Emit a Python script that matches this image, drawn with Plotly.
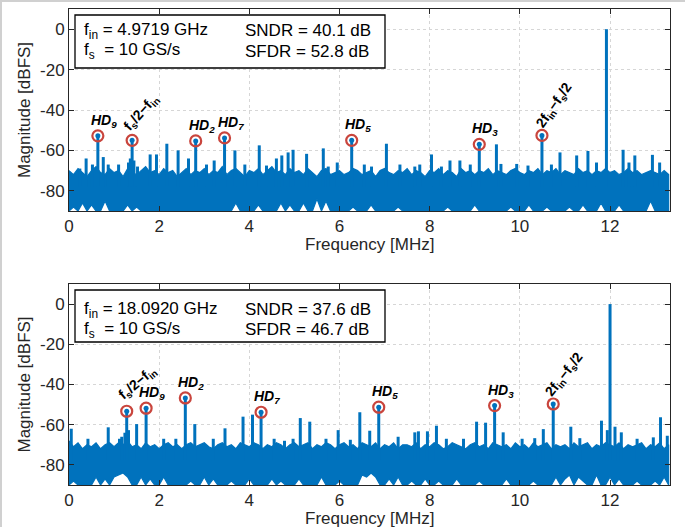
import numpy as np
import plotly.graph_objects as go

# ---------------- data ----------------
FREQ_GRID = np.round(np.arange(0, 13.35, 0.1), 2)  # noise-envelope frequency grid (0 ... 13.3)

# top panel noise envelope (dBFS)
NOISE_HI_1 = [
    -70, -72, -69, -71, -73, -70, -68, -71, -72, -69,
    -71, -70, -73, -69, -71, -72, -70, -68, -71, -70,
    -72, -69, -71, -70, -73, -71, -69, -72, -70, -71,
    -69, -72, -70, -71, -68, -72, -70, -69, -71, -73,
    -70, -71, -69, -72, -70, -68, -71, -70, -72, -69,
    -71, -70, -72, -69, -71, -73, -70, -69, -72, -71,
    -70, -72, -71, -69, -70, -72, -71, -70, -73, -70,
    -69, -71, -72, -70, -71, -69, -72, -70, -71, -73,
    -70, -71, -69, -72, -70, -71, -73, -69, -71, -70,
    -72, -70, -71, -69, -72, -70, -71, -72, -70, -69,
    -71, -72, -70, -71, -69, -72, -70, -71, -69, -72,
    -70, -71, -72, -69, -71, -70, -72, -70, -71, -69,
    -71, -70, -72, -71, -69, -71, -70, -72, -71, -70,
    -71, -72, -70, -72,
]
NOISE_LO_1 = [
    -90, -88, -90, -86, -90, -87, -90, -90, -85, -90,
    -90, -90, -90, -87, -90, -88, -90, -90, -90, -90,
    -90, -90, -90, -90, -90, -90, -90, -90, -90, -90,
    -90, -90, -90, -90, -90, -90, -90, -86, -90, -90,
    -90, -90, -87, -90, -90, -90, -90, -86, -90, -87,
    -90, -90, -86, -90, -90, -84, -90, -85, -90, -90,
    -90, -90, -90, -88, -90, -90, -90, -87, -90, -90,
    -90, -90, -90, -88, -90, -90, -90, -90, -90, -90,
    -90, -90, -90, -90, -88, -90, -90, -90, -90, -90,
    -87, -90, -90, -90, -90, -90, -90, -90, -88, -90,
    -90, -90, -87, -90, -90, -90, -88, -90, -90, -90,
    -90, -88, -90, -90, -87, -90, -90, -90, -86, -90,
    -90, -90, -87, -90, -90, -90, -90, -90, -90, -85,
    -90, -90, -90, -90,
]
# bottom panel noise envelope (dBFS)
NOISE_HI_2 = [
    -68, -71, -69, -72, -70, -71, -69, -72, -70, -69,
    -71, -69, -70, -68, -71, -70, -72, -69, -71, -70,
    -72, -70, -69, -71, -70, -72, -70, -69, -71, -70,
    -69, -71, -72, -70, -69, -71, -70, -72, -69, -70,
    -71, -69, -70, -72, -70, -71, -69, -70, -72, -70,
    -69, -71, -70, -69, -72, -70, -71, -69, -70, -72,
    -70, -69, -71, -70, -72, -69, -70, -71, -69, -72,
    -70, -71, -69, -72, -70, -70, -71, -69, -72, -70,
    -71, -69, -70, -72, -71, -69, -70, -71, -72, -70,
    -69, -71, -70, -72, -69, -70, -71, -70, -72, -69,
    -71, -70, -72, -69, -71, -70, -69, -72, -70, -71,
    -70, -72, -69, -71, -70, -69, -72, -70, -71, -69,
    -70, -71, -69, -72, -70, -71, -70, -69, -72, -70,
    -71, -69, -72, -70,
]
NOISE_LO_2 = [
    -90, -88, -90, -90, -90, -90, -86, -90, -87, -90,
    -86, -85, -84, -86, -90, -90, -86, -90, -87, -90,
    -90, -86, -90, -90, -90, -90, -90, -88, -90, -90,
    -86, -90, -87, -90, -90, -90, -88, -90, -90, -90,
    -87, -90, -90, -90, -90, -87, -90, -88, -90, -90,
    -90, -87, -90, -90, -90, -90, -86, -90, -90, -90,
    -88, -90, -90, -90, -90, -85, -86, -84, -86, -90,
    -90, -87, -90, -86, -90, -90, -88, -90, -90, -87,
    -90, -90, -88, -90, -90, -90, -87, -90, -90, -90,
    -90, -88, -90, -90, -90, -90, -90, -87, -90, -90,
    -90, -90, -90, -88, -90, -90, -90, -90, -86, -90,
    -87, -85, -90, -86, -88, -90, -90, -85, -90, -90,
    -86, -90, -87, -90, -90, -90, -88, -90, -90, -90,
    -88, -90, -86, -90,
]

# unlabeled spurs (frequency, magnitude)
SPUR_F_1 = [0.24, 0.38, 0.52, 0.76, 0.87, 1.10, 1.32, 1.36, 1.44, 1.52, 1.80, 1.94, 2.17,
            2.42, 2.65, 3.05, 3.22, 3.68, 3.90, 4.22, 4.38, 4.60, 4.72, 4.86, 4.97, 5.27,
            5.64, 5.75, 5.95, 6.55, 6.71, 7.04, 7.34, 7.67, 7.78, 8.04, 8.26, 8.45, 8.67,
            8.90, 9.48, 9.58, 9.93, 10.18, 10.70, 10.89, 11.26, 11.51, 11.70, 12.29, 12.42,
            12.55, 12.94, 13.10]
SPUR_DB_1 = [-69, -64, -67, -63.3, -67, -67, -66, -64, -65, -68, -62, -62, -56.7,
             -60, -64, -67, -65, -60, -67, -57.5, -67.5, -64, -62.5, -61, -59.7, -61.7,
             -59, -68, -66, -67, -68, -56.7, -67, -68, -67, -62, -68, -65, -65,
             -67, -57, -66.7, -66.7, -67.5, -67, -61, -62.5, -60.3, -66, -59.7, -66,
             -62.5, -62.2, -66]
SPUR_F_2 = [0.05, 0.42, 0.87, 1.12, 1.17, 1.24, 1.32, 1.50, 2.10, 2.37, 2.79, 3.20, 3.46,
            3.86, 4.07, 4.55, 4.78, 4.97, 5.13, 5.34, 5.70, 5.97, 6.24, 6.45, 6.67, 7.30,
            7.67, 7.75, 7.95, 8.15, 8.37, 8.75, 9.04, 9.24, 9.63, 10.05, 10.33, 10.52,
            11.13, 11.33, 11.81, 11.94, 12.11, 12.25, 12.60, 12.96, 13.12, 13.27]
SPUR_DB_2 = [-62, -67, -61.3, -67, -66, -64, -62.7, -59.7, -67, -67, -59.7, -67, -61.8,
             -56, -55, -67, -68, -67, -56.7, -58.5, -67, -62.7, -67.5, -53.8, -63, -66,
             -63.8, -63.3, -63.3, -60.5, -67, -67, -58.5, -59, -63.8, -67, -66.7, -62.2,
             -61, -66.7, -58, -62.7, -61, -63.8, -67, -66.3, -56.3, -65.5]

# fundamental tones
TONE_F = [11.92, 12.0]
TONE_DB = [0, 0]

# labeled spurs
LAB_TXT_1 = ["HD9", "fs2-fin", "HD2", "HD7", "HD5", "HD3", "2fin-fs2"]
LAB_F_1 = [0.64, 1.40, 2.81, 3.45, 6.27, 9.10, 10.49]
LAB_DB_1 = [-52.8, -55.0, -55.3, -53.8, -55.0, -57.0, -52.6]
LAB_TXT_2 = ["fs2-fin", "HD9", "HD2", "HD7", "HD5", "HD3", "2fin-fs2"]
LAB_F_2 = [1.28, 1.71, 2.58, 4.26, 6.87, 9.44, 10.74]
LAB_DB_2 = [-53.3, -51.8, -46.7, -53.8, -51.3, -50.5, -49.7]

INFO_1 = ["f<sub>in</sub> = 4.9719 GHz", "SNDR = 40.1 dB", "f<sub>s</sub>  = 10 GS/s", "SFDR = 52.8 dB"]
INFO_2 = ["f<sub>in</sub> = 18.0920 GHz", "SNDR = 37.6 dB", "f<sub>s</sub>  = 10 GS/s", "SFDR = 46.7 dB"]

X_TICKS = [0, 2, 4, 6, 8, 10, 12]
Y_TICKS = [0, -20, -40, -60, -80]
Y_TICKTEXT = ["0", "-20", "-40", "-60", "-80"]

# ---------------- style ----------------
BLUE = "#0072BD"
RED = "#C9453D"
INK = "#262626"
FONT = "Liberation Sans, Arial, sans-serif"
W, H = 685, 527
PL, PR, PT, PB = 69, 670, 9, 485
STEM_BASE = -78


def px(x):
    return (x - PL) / (PR - PL)


def py(y):
    return (PB - y) / (PB - PT)


LABEL_HTML = {
    "HD9": "<b><i>HD<sub>9</sub></i></b>",
    "HD2": "<b><i>HD<sub>2</sub></i></b>",
    "HD7": "<b><i>HD<sub>7</sub></i></b>",
    "HD5": "<b><i>HD<sub>5</sub></i></b>",
    "HD3": "<b><i>HD<sub>3</sub></i></b>",
    "fs2-fin": "<b>f<sub>s</sub>/2\u2212f<sub>in</sub></b>",
    "2fin-fs2": "<b>2f<sub>in</sub>\u2212f<sub>s</sub>/2</b>",
}

fig = go.Figure()
annotations = []
shapes = []

panels = [
    dict(xa="x", ya="y", hi=NOISE_HI_1, lo=NOISE_LO_1, sf=SPUR_F_1, sd=SPUR_DB_1,
         tf=TONE_F[0], td=TONE_DB[0], lt=LAB_TXT_1, lf=LAB_F_1, ld=LAB_DB_1, info=INFO_1,
         box=(75, 15, 385, 68), rows=(31, 51), top=9, bot=211, rot=[(9, 27, -48), (13, 30, -55)]),
    dict(xa="x2", ya="y2", hi=NOISE_HI_2, lo=NOISE_LO_2, sf=SPUR_F_2, sd=SPUR_DB_2,
         tf=TONE_F[1], td=TONE_DB[1], lt=LAB_TXT_2, lf=LAB_F_2, ld=LAB_DB_2, info=INFO_2,
         box=(75, 290, 385, 342), rows=(309.5, 329.5), top=284, bot=485, rot=[(11, 28, -40), (11, 29, -52)]),
]

for p in panels:
    xa, ya = p["xa"], p["ya"]
    grid = list(FREQ_GRID)
    fig.add_trace(go.Scatter(
        x=grid + grid[::-1], y=list(p["hi"]) + list(p["lo"])[::-1],
        xaxis=xa, yaxis=ya, mode="lines", fill="toself", fillcolor=BLUE,
        line=dict(color=BLUE, width=1.2), hoverinfo="skip", showlegend=False))
    sx, sy = [], []
    for f, d in zip(p["sf"] + [p["tf"]] + p["lf"], p["sd"] + [p["td"]] + p["ld"]):
        sx += [f, f, None]
        sy += [STEM_BASE, d, None]
    fig.add_trace(go.Scatter(x=sx, y=sy, xaxis=xa, yaxis=ya, mode="lines",
                             line=dict(color=BLUE, width=3), showlegend=False, hoverinfo="skip"))
    fig.add_trace(go.Scatter(x=p["lf"], y=p["ld"], xaxis=xa, yaxis=ya, mode="markers",
                             marker=dict(color=BLUE, size=5), showlegend=False, hoverinfo="skip"))
    fig.add_trace(go.Scatter(x=p["lf"], y=p["ld"], xaxis=xa, yaxis=ya, mode="markers",
                             marker=dict(symbol="circle-open", color=RED, size=11, line=dict(width=2.2, color=RED)),
                             showlegend=False, hoverinfo="skip"))
    # spur labels
    for t, f, d in zip(p["lt"], p["lf"], p["ld"]):
        if t == "fs2-fin":
            dx, dy, ang = p["rot"][0]
        elif t == "2fin-fs2":
            dx, dy, ang = p["rot"][1]
        else:
            dx, dy, ang = 6, 15, 0
        annotations.append(dict(x=f, y=d, xref=xa, yref=ya, text=LABEL_HTML[t], showarrow=False,
                                xshift=dx, yshift=dy, textangle=ang, xanchor="center", yanchor="middle",
                                font=dict(family=FONT, size=14, color="black")))
    # info box
    bx0, by0, bx1, by1 = p["box"]
    shapes.append(dict(type="rect", xref="paper", yref="paper", x0=px(bx0), x1=px(bx1),
                       y0=py(by1), y1=py(by0), line=dict(color="black", width=1.3), fillcolor="white"))
    r1, r2 = p["rows"]
    for txt, xx, yy in zip(p["info"], [82, 243, 82, 243], [r1, r1, r2, r2]):
        annotations.append(dict(x=px(xx), y=py(yy), xref="paper", yref="paper", text=txt,
                                showarrow=False, xanchor="left", yanchor="middle",
                                font=dict(family=FONT, size=17, color="black")))
    # axis titles
    annotations.append(dict(x=px(24), y=py((p["top"] + p["bot"]) / 2), xref="paper", yref="paper",
                            text="Magnitude [dBFS]", textangle=-90, showarrow=False,
                            xanchor="center", yanchor="middle",
                            font=dict(family=FONT, size=17, color=INK)))
    annotations.append(dict(x=0.5, y=py(p["bot"] + 33), xref="paper", yref="paper",
                            text="Frequency [MHz]", showarrow=False,
                            xanchor="center", yanchor="middle",
                            font=dict(family=FONT, size=17, color=INK)))

# light figure frame (top / left)
shapes.append(dict(type="line", xref="paper", yref="paper", x0=px(0), x1=px(W), y0=py(1), y1=py(1),
                   line=dict(color="#d0d0d0", width=2)))
shapes.append(dict(type="line", xref="paper", yref="paper", x0=px(1), x1=px(1), y0=py(H), y1=py(0),
                   line=dict(color="#d0d0d0", width=2)))

axis_common = dict(showline=True, linecolor=INK, linewidth=1, mirror="ticks", ticks="inside",
                   ticklen=5, tickcolor=INK, showgrid=True, gridcolor="#d6d6d6", griddash="dot",
                   gridwidth=1, zeroline=False, tickfont=dict(family=FONT, size=17, color=INK))
xcfg = dict(axis_common, range=[0, 13.33], tickvals=X_TICKS, ticktext=[str(v) for v in X_TICKS])
ycfg = dict(axis_common, range=[-90, 10], tickvals=Y_TICKS, ticktext=Y_TICKTEXT)

fig.update_layout(
    width=W, height=H, paper_bgcolor="white", plot_bgcolor="white",
    margin=dict(l=PL, r=W - PR, t=PT, b=H - PB, pad=0),
    xaxis=dict(xcfg, domain=[0, 1], anchor="y"),
    yaxis=dict(ycfg, domain=[py(211), 1], anchor="x"),
    xaxis2=dict(xcfg, domain=[0, 1], anchor="y2"),
    yaxis2=dict(ycfg, domain=[0, py(284)], anchor="x2"),
    annotations=annotations, shapes=shapes, showlegend=False,
)

fig.write_html("out.html", config={"displayModeBar": False},
               post_script="document.body.style.margin='0px';")
